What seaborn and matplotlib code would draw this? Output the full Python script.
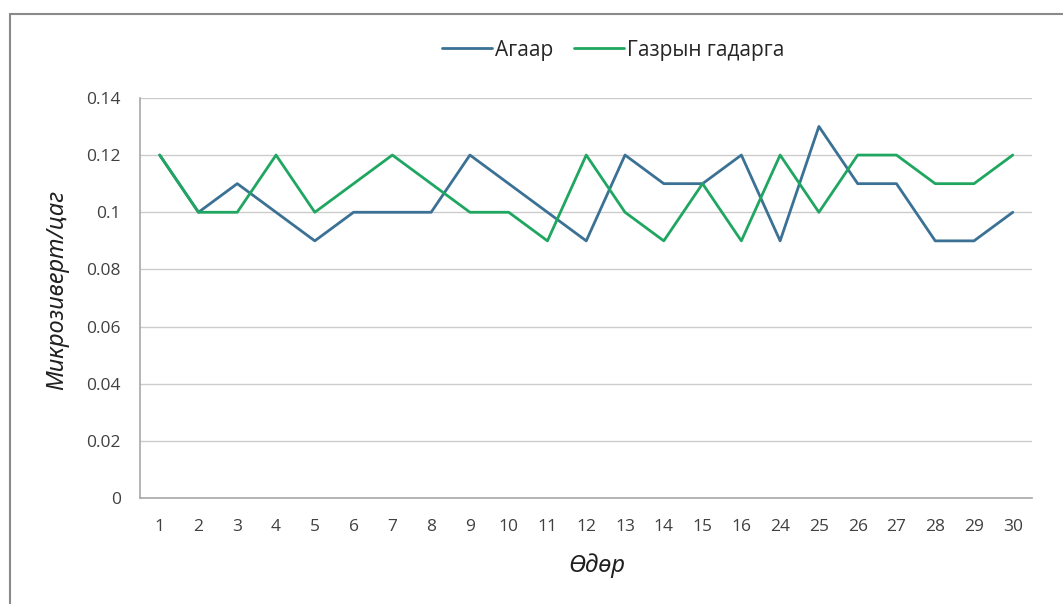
import pandas as pd
import matplotlib.pyplot as plt
import seaborn as sns

# Days measured and dose rates (microsievert per hour)
days = ["1", "2", "3", "4", "5", "6", "7", "8", "9", "10", "11", "12",
        "13", "14", "15", "16", "24", "25", "26", "27", "28", "29", "30"]
air = [0.12, 0.10, 0.11, 0.10, 0.09, 0.10, 0.10, 0.10, 0.12, 0.11, 0.10, 0.09,
       0.12, 0.11, 0.11, 0.12, 0.09, 0.13, 0.11, 0.11, 0.09, 0.09, 0.10]
ground = [0.12, 0.10, 0.10, 0.12, 0.10, 0.11, 0.12, 0.11, 0.10, 0.10, 0.09, 0.12,
          0.10, 0.09, 0.11, 0.09, 0.12, 0.10, 0.12, 0.12, 0.11, 0.11, 0.12]
series_names = ["Агаар", "Газрын гадарга"]
yticks = [0, 0.02, 0.04, 0.06, 0.08, 0.10, 0.12, 0.14]
ytick_labels = ["0", "0.02", "0.04", "0.06", "0.08", "0.1", "0.12", "0.14"]

df = pd.DataFrame({
    "day": days * 2,
    "value": air + ground,
    "series": [series_names[0]] * len(days) + [series_names[1]] * len(days),
})

sns.set_style("white")
plt.rcParams["font.family"] = ["Open Sans", "DejaVu Sans"]

fig = plt.figure(figsize=(10.63, 6.04), dpi=100)
ax = fig.add_axes([0.132, 0.175, 0.839, 0.663])

sns.lineplot(data=df, x="day", y="value", hue="series",
             palette=["#3a7194", "#1fa660"], linewidth=2.0, ax=ax, legend=True)

ax.set_xlim(-0.5, len(days) - 0.5)
ax.set_ylim(0, 0.14)
ax.set_yticks(yticks)
ax.set_yticklabels(ytick_labels)
ax.yaxis.grid(True, color="#cccccc", linewidth=1)
ax.xaxis.grid(False)
ax.tick_params(axis="y", length=8, color="#a0a0a0", labelsize=12.5, colors="#404040", pad=6)
ax.tick_params(axis="x", length=0, labelsize=12.5, colors="#404040", pad=15)
for s in ["top", "right"]:
    ax.spines[s].set_visible(False)
for s in ["left", "bottom"]:
    ax.spines[s].set_color("#a8a8a8")
    ax.spines[s].set_linewidth(1.2)

label_font = ["Noto Sans", "DejaVu Sans"]
ax.set_xlabel("Өдөр", fontsize=17, style="italic", family=label_font,
              color="#202020", va="center")
ax.set_ylabel("Микрозиверт/цаг", fontsize=17, style="italic",
              family=label_font, color="#202020", va="center")
ax.xaxis.set_label_coords(0.512, -0.168)
ax.yaxis.set_label_coords(-0.093, 0.52)

handles, labels = ax.get_legend_handles_labels()
ax.legend(handles, labels, loc="center", bbox_to_anchor=(0.577, 0.917),
          bbox_transform=fig.transFigure, ncol=2, frameon=False,
          fontsize=15, handlelength=2.4, handletextpad=0.15, columnspacing=1.0)

# border on the top and left edges, as in the source image
fig.add_artist(plt.Line2D([0.0094, 1.0], [0.977, 0.977], transform=fig.transFigure,
                          color="#8a8a8a", linewidth=1.5))
fig.add_artist(plt.Line2D([0.0094, 0.0094], [0.0, 0.977], transform=fig.transFigure,
                          color="#8a8a8a", linewidth=1.5))

fig.savefig("out.png", dpi=100)
